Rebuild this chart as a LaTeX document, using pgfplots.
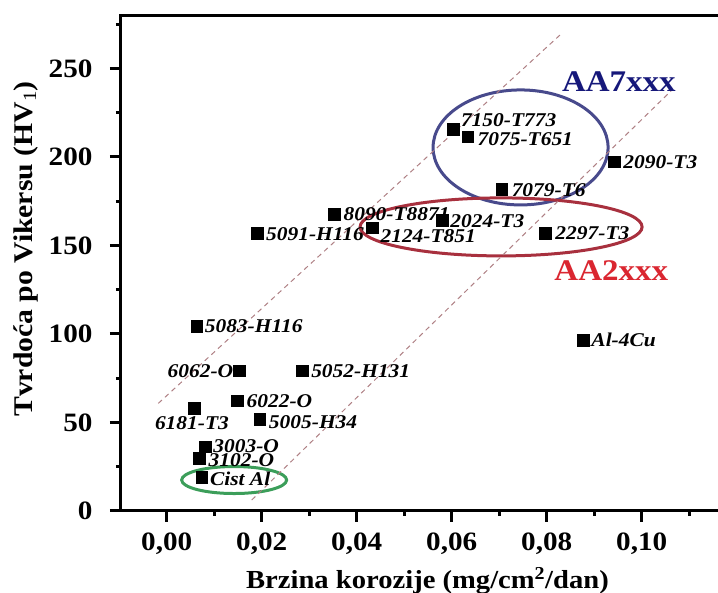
\documentclass[border=0pt]{standalone}
\usepackage{pgfplots}
\pgfplotsset{compat=1.18}
\usepackage{fontspec}
\setmainfont{Liberation Serif}[FakeStretch=1.1]
\definecolor{ellblue}{RGB}{72,74,140}
\definecolor{ellred}{RGB}{168,48,62}
\definecolor{ellgreen}{RGB}{60,158,90}
\definecolor{txtblue}{RGB}{22,24,122}
\definecolor{txtred}{RGB}{218,38,48}
\definecolor{dashc}{RGB}{175,128,132}
\newcommand{\lblfont}{\bfseries\itshape\fontsize{19.5}{21}\selectfont}
\begin{document}
\begin{tikzpicture}
\useasboundingbox (-121pt,-82pt) rectangle (597pt,511pt);
\begin{axis}[
  scale only axis, width=615.7pt, height=495.6pt,
  xmin=-0.00962, xmax=0.12, ymin=0, ymax=280,
  axis line style={line width=3pt, black},
  xtick={0,0.02,0.04,0.06,0.08,0.1},
  minor xtick={0.01,0.03,0.05,0.07,0.09,0.11},
  ytick={0,50,100,150,200,250},
  minor ytick={25,75,125,175,225,275},
  tick pos=left, tick align=outside,
  major tick length=11pt, minor tick length=5pt,
  tick style={line width=3pt, black},
  /pgf/number format/assume math mode=true,
  xticklabel style={/pgf/number format/.cd, fixed, fixed zerofill, precision=2, use comma, /tikz/.cd, font=\bfseries\fontsize{26.5}{28}\selectfont, yshift=-7pt},
  yticklabel style={font=\bfseries\fontsize{26.5}{28}\selectfont, xshift=-14pt},
  scaled x ticks=false,
  xlabel={Brzina korozije (mg/cm\textsuperscript{2}/dan)},
  ylabel={Tvrdoća po Vikersu (HV\textsubscript{\mdseries 1})},
  xlabel style={font=\bfseries\fontsize{26}{28}\selectfont, at={(axis description cs:0.4978,-0.1412)}, anchor=center},
  ylabel style={font=\bfseries\fontsize{27}{29}\selectfont, at={(axis description cs:-0.1546,0.5287)}, anchor=center, rotate=0},
  clip=false,
]
% group ellipses
\draw[ellblue, line width=3pt] (axis cs:0.0745,205.4) ellipse [x radius=87.5pt, y radius=57.5pt];
\draw[ellred, line width=3pt] (axis cs:0.0704,160.5) ellipse [x radius=141pt, y radius=29pt];
\draw[ellgreen, line width=3pt] (axis cs:0.0142,17.5) ellipse [x radius=52.5pt, y radius=13.5pt];
% trend band
\addplot[dashc, line width=1pt, dash pattern=on 5pt off 4pt] coordinates {(-0.00177,60.8) (0.0832,269.9)};
\addplot[dashc, line width=1pt, dash pattern=on 5pt off 4pt] coordinates {(0.0179,6.2) (0.1064,237.9)};
% alloys
\addplot[only marks, mark=square*, mark size=5.8pt, black,
  point meta=explicit symbolic,
  nodes near coords,
  visualization depends on={value \thisrow{anc}\as\lanc},
  visualization depends on={\thisrow{dx}\as\ldx},
  visualization depends on={\thisrow{dy}\as\ldy},
  every node near coord/.append style={anchor=\lanc, xshift=\ldx pt, yshift=\ldy pt, font=\lblfont, inner sep=0pt, black},
] table[col sep=comma, row sep=\\, meta=lbl] {
x,y,lbl,anc,dx,dy\\
0.0603,215.6,7150-T773,west,7.7,9.3\\
0.0634,211.5,7075-T651,west,9.6,-2\\
0.0942,197.3,2090-T3,west,9,0\\
0.0705,181.9,7079-T6,west,10,-1\\
0.0353,167.6,8090-T8871,west,9,0\\
0.0580,164.2,2024-T3,west,8,-1\\
0.0433,160.1,2124-T851,west,8,-8\\
0.0190,156.9,5091-H116,west,9,-1\\
0.0797,157.1,2297-T3,west,10,0\\
0.0063,104.5,5083-H116,west,8,0\\
0.0877,96.6,Al-4Cu,west,8,0\\
0.0153,79.3,6062-O,east,-6,0\\
0.0285,79.3,5052-H131,west,9,0\\
0.0149,62.3,6022-O,west,9,0\\
0.0058,58.0,6181-T3,center,-2.3,-14.4\\
0.0196,52.0,5005-H34,west,9,-3\\
0.0081,36.3,3003-O,west,8,1\\
0.0069,29.8,3102-O,west,9,-2\\
0.0074,19.0,Cist Al,west,8,-1\\
};
% group names
\node[txtblue, font=\bfseries\fontsize{30}{32}\selectfont] at (axis cs:0.0952,242.4) {AA7xxx};
\node[txtred, font=\bfseries\fontsize{30}{32}\selectfont] at (axis cs:0.0936,135.6) {AA2xxx};
\end{axis}
\end{tikzpicture}
\end{document}
